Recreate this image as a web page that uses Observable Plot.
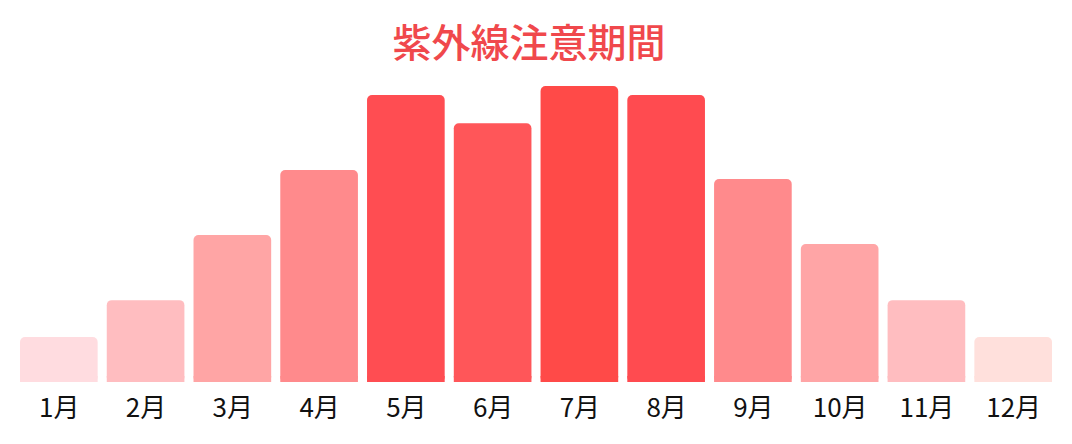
<!DOCTYPE html>
<html><head><meta charset="utf-8">
<script src="https://cdn.jsdelivr.net/npm/d3@7"></script>
<script src="https://cdn.jsdelivr.net/npm/@observablehq/plot@0.6"></script>
<style>
body{margin:0;background:#fff;font-family:"Noto Sans CJK JP","Noto Sans",sans-serif;}
#title{height:60px;padding-top:10px;box-sizing:content-box;display:flex;align-items:center;justify-content:center;font-size:39px;font-weight:500;color:#F0484C;width:1058px;}
#chart{margin-top:2px;}
#chart svg{display:block;}
</style></head>
<body>
<div id="title">紫外線注意期間</div>
<div id="chart"></div>
<script>
const months = ["1月","2月","3月","4月","5月","6月","7月","8月","9月","10月","11月","12月"];
const values = [1.5, 2.73, 4.9, 7.07, 9.57, 8.63, 9.87, 9.57, 6.77, 4.6, 2.73, 1.5];
const colors = ["#FFDCE0","#FFBDC0","#FFA5A5","#FF8A8C","#FF4D52","#FF5659","#FF4A48","#FF4B50","#FF8A8C","#FFA5A6","#FFBDC0","#FFE0DC"];
const data = months.map((m, i) => ({month: m, value: values[i], color: colors[i]}));
const chart = Plot.plot({
  width: 1072, height: 372,
  marginTop: 14, marginBottom: 62, marginLeft: 20, marginRight: 20,
  style: {fontFamily: '"Noto Sans CJK JP","Noto Sans",sans-serif', background: "#fff"},
  x: {domain: months, paddingInner: 0.105, paddingOuter: 0, round: false, label: null},
  y: {domain: [0, d3.max(values)], axis: null},
  marks: [
    Plot.barY(data, {x: "month", y: "value", fill: "color", rx: 5}),
    Plot.barY(data, {x: "month", y1: 0, y2: 0.2, fill: "color"}),
    Plot.axisX({tickSize: 0, tickPadding: 16, fontSize: 26, fill: "#111", label: null})
  ]
});
document.getElementById("chart").appendChild(chart);
</script>
</body></html>
